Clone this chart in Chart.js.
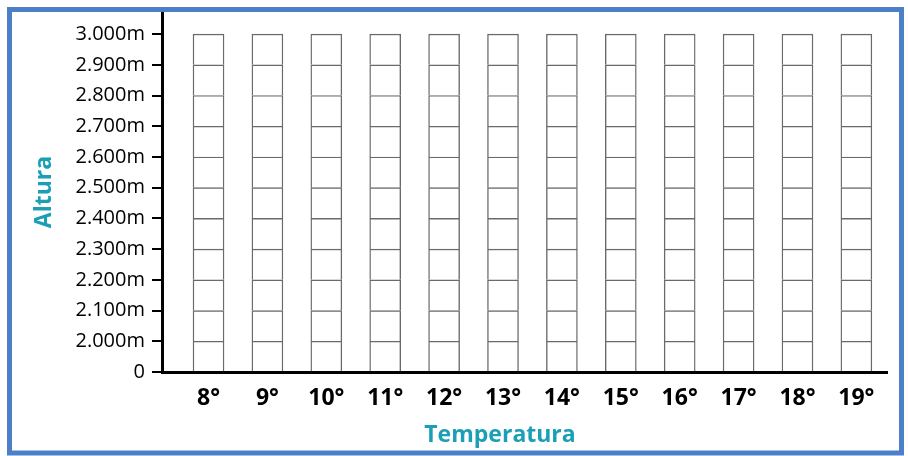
<!DOCTYPE html>
<html><head><meta charset="utf-8">
<script src="https://cdn.jsdelivr.net/npm/chart.js@4"></script>
<style>html,body{margin:0;padding:0;background:#fff}canvas{display:block}</style>
</head><body>
<canvas id="c" width="908" height="456"></canvas>
<script>
// Categories (temperatures) and their tick labels
const temperatures = [8, 9, 10, 11, 12, 13, 14, 15, 16, 17, 18, 19];
const temperatureLabels = ['8°', '9°', '10°', '11°', '12°', '13°', '14°', '15°', '16°', '17°', '18°', '19°'];
// Altitude tick labels (equally spaced levels on the grid)
const altitudeLabels = ['0', '2.000m', '2.100m', '2.200m', '2.300m', '2.400m', '2.500m', '2.600m', '2.700m', '2.800m', '2.900m', '3.000m'];
// Level index of every labelled line
const altitudeLevels = [0, 1, 2, 3, 4, 5, 6, 7, 8, 9, 10, 11];
const xTitle = 'Temperatura';
const yTitle = 'Altura';

const TEAL = '#1a9fb6';
const FONT = "'Open Sans', sans-serif";

// each empty column is a stack of cells between consecutive levels
const datasets = altitudeLevels.slice(0, -1).map((lvl, i) => ({
  data: temperatures.map(t => ({ x: t, y: [lvl, altitudeLevels[i + 1]] })),
  backgroundColor: '#ffffff',
  borderColor: '#6a6a6a',
  borderWidth: 1.4,
  borderSkipped: 'start',
  barThickness: 31,
  grouped: false
}));

const framePlugin = {
  id: 'frame',
  beforeDraw(chart) {
    const ctx = chart.ctx;
    ctx.save();
    ctx.fillStyle = '#fff';
    ctx.fillRect(0, 0, chart.width, chart.height);
    ctx.restore();
  },
  afterDraw(chart) {
    const ctx = chart.ctx;
    ctx.save();
    ctx.strokeStyle = '#4c80c6';
    ctx.lineWidth = 5;
    ctx.strokeRect(9.5, 9.5, 892, 443.5);
    ctx.fillStyle = TEAL;
    ctx.font = "bold 23px " + FONT;
    ctx.textAlign = 'center';
    ctx.textBaseline = 'alphabetic';
    ctx.fillText(xTitle, 500, 442);
    ctx.restore();
  }
};

new Chart(document.getElementById('c'), {
  type: 'bar',
  data: { datasets },
  options: {
    responsive: false,
    animation: false,
    layout: { padding: { left: 0, top: 12, right: 21, bottom: 0 } },
    plugins: { legend: { display: false }, tooltip: { enabled: false } },
    scales: {
      x: {
        type: 'linear',
        offset: false,
        min: 7.21,
        max: 19.52,
        afterBuildTicks: s => { s.ticks = temperatures.map(v => ({ value: v })); },
        afterFit: s => { s.height = 84; s.paddingLeft = 0; s.paddingRight = 0; },
        grid: { display: false },
        border: { display: true, color: '#000', width: 3 },
        ticks: {
          padding: 5,
          color: '#000',
          font: { family: FONT, size: 23, weight: 'bold' },
          maxRotation: 0,
          callback: v => temperatureLabels[temperatures.indexOf(v)]
        }
      },
      y: {
        type: 'linear',
        min: 0,
        max: 11.72,
        afterBuildTicks: s => { s.ticks = altitudeLevels.map(v => ({ value: v })); },
        afterFit: s => { s.width = 162; s.paddingTop = 0; s.paddingBottom = 0; },
        grid: { display: true, drawOnChartArea: false, drawTicks: true, tickLength: 10, color: '#000', lineWidth: 2 },
        border: { display: true, color: '#000', width: 3 },
        title: {
          display: true,
          text: yTitle,
          color: TEAL,
          font: { family: FONT, size: 23, weight: 'bold' },
          padding: { top: 31, bottom: 0 }
        },
        ticks: {
          padding: 7,
          color: '#000',
          font: { family: FONT, size: 20 },
          callback: v => altitudeLabels[altitudeLevels.indexOf(v)]
        }
      }
    }
  },
  plugins: [framePlugin]
});
</script>
</body></html>
